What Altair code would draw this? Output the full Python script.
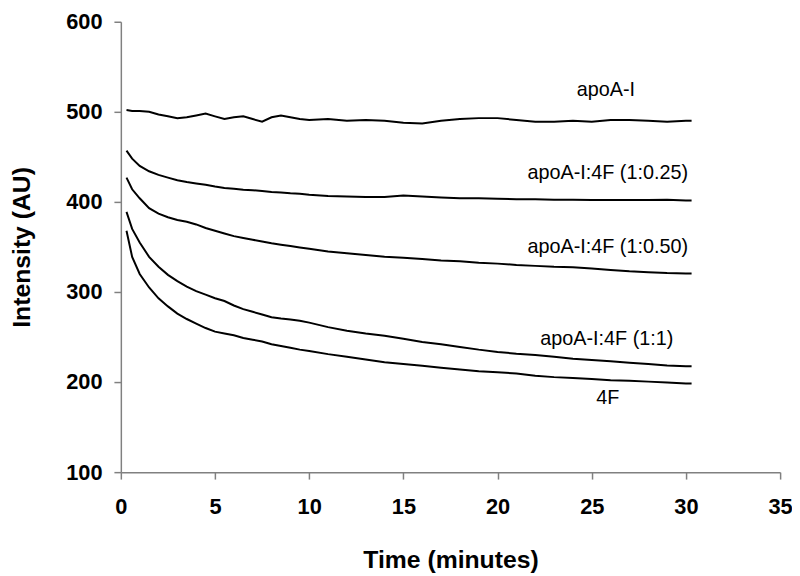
import altair as alt
import pandas as pd

# Time grid (minutes)
time = [0.3, 0.6, 1.0, 1.5, 2.0, 2.5, 3.0, 3.5, 4.0, 4.5, 5.0, 5.5, 6.0, 6.5, 7.0, 7.5,
        8.0, 8.5, 9.0, 9.5, 10, 11, 12, 13, 14, 15, 16, 17, 18, 19, 20, 21, 22, 23, 24,
        25, 26, 27, 28, 29, 30, 30.3]

apoA_I = [502, 501, 501, 500, 497, 495, 493, 494, 496, 498, 495, 492, 494, 495, 492, 489,
          494, 496, 494, 492, 491, 492, 490, 491, 490, 488, 487, 490, 492, 493, 493, 491,
          489, 489, 490, 489, 491, 491, 490, 489, 490, 490]

apoA_I_4F_025 = [457, 448, 440, 434, 430, 427, 424, 422, 420.5, 419, 417, 415.5, 414.5, 413.5,
                 413, 412, 411, 410.5, 409.5, 409, 408, 406.5, 406, 405.5, 405.5, 407, 406,
                 405, 404, 404, 403.5, 403, 403, 402.5, 402.5, 402, 402, 402, 402, 402.5,
                 401.5, 401.5]

apoA_I_4F_050 = [427, 414, 404, 393, 387, 383, 380, 378, 375, 371, 368, 365, 362, 360, 358,
                 356, 354, 352.5, 351, 349.5, 348, 345, 343, 341, 339, 338, 336.5, 335, 334,
                 332.5, 331.5, 330, 329, 328, 327.5, 326, 324.5, 323, 322, 321, 320.5, 320.5]

apoA_I_4F_1 = [389, 370, 355, 339, 328, 319, 312, 306, 301, 297, 293, 290, 285, 281, 278,
               275, 272, 270.5, 269.5, 268, 266, 261, 257, 254, 251.5, 248, 244.5, 242,
               239, 236, 233.5, 231.5, 230, 228, 226, 224.5, 223, 221.5, 220, 218.5, 217.5,
               217.5]

fourF = [368, 339, 320, 305, 293, 284, 276, 270, 265, 260, 256, 254, 252, 249, 247, 245,
         242, 240, 238, 236, 234.5, 231, 228, 225, 222, 220, 218, 216, 214, 212, 211, 209.5,
         207, 205.5, 204.5, 203.5, 202, 201.5, 200.5, 199.5, 198.5, 198.5]

series_names = ["apoA-I", "apoA-I:4F (1:0.25)", "apoA-I:4F (1:0.50)", "apoA-I:4F (1:1)", "4F"]
series_values = [apoA_I, apoA_I_4F_025, apoA_I_4F_050, apoA_I_4F_1, fourF]

# Curve annotations
label_text = ["apoA-I", "apoA-I:4F (1:0.25)", "apoA-I:4F (1:0.50)", "apoA-I:4F (1:1)", "4F"]
label_x = [25.75, 25.85, 25.85, 25.8, 25.85]
label_y = [524.6, 432, 350, 248, 182]

x_ticks = [0, 5, 10, 15, 20, 25, 30, 35]
y_ticks = [100, 200, 300, 400, 500, 600]

rows = []
for name, vals in zip(series_names, series_values):
    for t, v in zip(time, vals):
        rows.append({"series": name, "time": t, "intensity": v})
df = pd.DataFrame(rows)
labels_df = pd.DataFrame({"text": label_text, "x": label_x, "y": label_y})

FONT = "Liberation Sans"

x_scale = alt.Scale(domain=[0, 35], nice=False, zero=False)
y_scale = alt.Scale(domain=[100, 600], nice=False, zero=False)

lines = alt.Chart(df).mark_line(color="black", strokeWidth=2).encode(
    x=alt.X("time:Q", scale=x_scale,
            axis=alt.Axis(title="Time (minutes)", values=x_ticks, titlePadding=30,
                          labelPadding=18)),
    y=alt.Y("intensity:Q", scale=y_scale,
            axis=alt.Axis(title="Intensity (AU)", values=y_ticks, titlePadding=32,
                          labelPadding=12)),
    detail="series:N",
)

texts = alt.Chart(labels_df).mark_text(
    font=FONT, fontSize=20, color="black", align="center", baseline="middle"
).encode(
    x=alt.X("x:Q", scale=x_scale),
    y=alt.Y("y:Q", scale=y_scale),
    text="text:N",
)

chart = alt.layer(lines, texts).properties(
    width=666, height=455,
    autosize=alt.AutoSizeParams(type="none"),
    padding={"left": 114, "top": 11, "right": 12, "bottom": 100},
).configure_view(stroke=None).configure_axis(
    grid=False,
    domainColor="#808080", domainWidth=1.5,
    tickColor="#808080", tickWidth=1.5, tickSize=7,
    labelFont=FONT, labelFontSize=22, labelFontWeight="bold", labelColor="black",
    titleFont=FONT, titleFontSize=25, titleFontWeight="bold", titleColor="black",
).configure_axisX(labelFlush=False)

chart.save("out.html", embed_options={"renderer": "svg", "actions": False})
